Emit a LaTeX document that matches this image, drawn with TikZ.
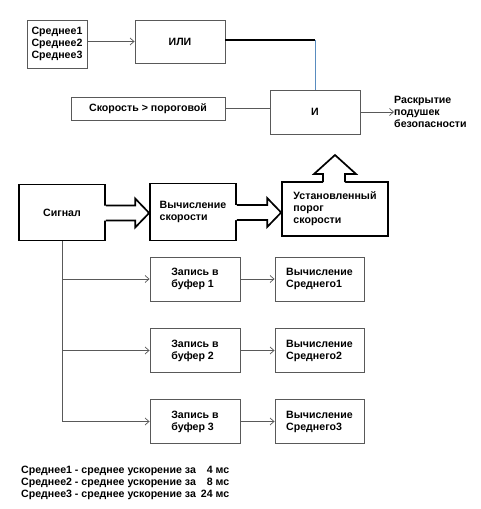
\documentclass[tikz,border=0pt]{standalone}
\usepackage{fontspec}
\setmainfont{Liberation Sans}
\usepackage{tikz}
\usetikzlibrary{positioning, calc, arrows.meta}
\definecolor{linkblue}{rgb}{0.35, 0.55, 0.75}
\definecolor{boxgray}{rgb}{0.35, 0.35, 0.35}

\begin{document}
\begin{tikzpicture}[x=1pt, y=-1pt, font=\bfseries\fontsize{10.6}{12}\selectfont,
	thinbox/.style={draw=boxgray, line width=0.9pt, align=left, inner sep=0pt},
	thickbox/.style={draw=black, line width=1.7pt, align=left, inner sep=0pt},
	arr/.style={-{Straight Barb[length=4pt, width=7pt]}, line width=0.7pt, boxgray},
	blockarr/.style={draw=black, line width=1.7pt, line join=miter}]
	\useasboundingbox (0,0) rectangle (480,509);
	% logic part
	\node[thinbox, minimum width=60pt, minimum height=48pt] (avgs) at (57,44) {Среднее1\\Среднее2\\Среднее3};
	\node[thinbox, minimum width=90pt, minimum height=43pt] (or) at (180,41.5) {ИЛИ};
	\node[thinbox, minimum width=154pt, minimum height=23pt] (speed) at (148,108.5) {Скорость > пороговой};
	\node[thinbox, minimum width=90pt, minimum height=44pt] (and) at (315,112) {И};
	\node[anchor=west, align=left, inner sep=0pt] (airbag) at (394,112) {Раскрытие\\подушек\\безопасности};
	\draw[arr] (avgs.east |- or.west) -- (or.west);
	\draw[line width=1.2pt] ($(or.east)+(0,-1.5)$) -- ($(or.east -| and.north)+(0,-1.5)$);
	\draw[linkblue, line width=0.8pt] ($(or.east -| and.north)+(0,-1.5)$) -- (and.north);
	\draw[boxgray, line width=0.9pt] (speed.east) -- (speed.east -| and.west);
	\draw[arr] (and.east) -- (airbag.west);
	% speed part
	\node[thickbox, minimum width=86pt, minimum height=56pt, align=center] (signal) at (62,212.5) {Сигнал};
	\node[thickbox, minimum width=86pt, minimum height=57pt] (calc) at (193,212) {Вычисление\\скорости};
	\node[thickbox, minimum width=106pt, minimum height=54pt] (thresh) at (335,209) {Установленный\\порог\\скорости};
	\foreach \a/\b in {signal/calc, calc/thresh}{
		\coordinate (tip) at ($(\b.west |- \a.east)+(0,0.5)$);
		\fill[white] ($(\a.east |- tip)+(-2,-7.5)$) -- ($(tip)+(-14,-7.5)$) -- ($(tip)+(-14,-14.5)$) -- (tip)
			-- ($(tip)+(-14,14.5)$) -- ($(tip)+(-14,7.5)$) -- ($(\a.east |- tip)+(-2,7.5)$) -- cycle;
		\draw[blockarr] ($(\a.east |- tip)+(0,-7.5)$) -- ($(tip)+(-14,-7.5)$) -- ($(tip)+(-14,-14.5)$) -- (tip)
			-- ($(tip)+(-14,14.5)$) -- ($(tip)+(-14,7.5)$) -- ($(\a.east |- tip)+(0,7.5)$);
	}
	\fill[white] (323,184) -- (323,174) -- (314,174) -- (335,155) -- (356,174) -- (345,174) -- (345,184) -- cycle;
	\draw[blockarr] (323,182) -- (323,174) -- (314,174) -- (335,155) -- (356,174) -- (345,174) -- (345,182);
	% buffers
	\foreach \i/\y in {1/279, 2/350.5, 3/421.5}{
		\node[thinbox, minimum width=90pt, minimum height=44pt] (buf\i) at (195,\y) {Запись в\\буфер \i};
		\node[thinbox, minimum width=89pt, minimum height=44pt] (mean\i) at (319.5,\y) {Вычисление\\Среднего\i};
		\draw[arr] (signal.south |- buf\i.west) -- (buf\i.west);
		\draw[arr] (buf\i.east) -- (mean\i.west);
	}
	\draw[boxgray, line width=0.9pt] (signal.south) -- (signal.south |- buf3.west);
	% legend
	\node[anchor=north west, inner sep=0pt] (legend) at (21,465) {%
		\begin{tabular}{@{}l@{\hspace{5pt}}r@{ }l@{}}
		Среднее1 - среднее ускорение за & 4 & мс\\
		Среднее2 - среднее ускорение за & 8 & мс\\
		Среднее3 - среднее ускорение за & 24 & мс
		\end{tabular}};
\end{tikzpicture}
\end{document}
